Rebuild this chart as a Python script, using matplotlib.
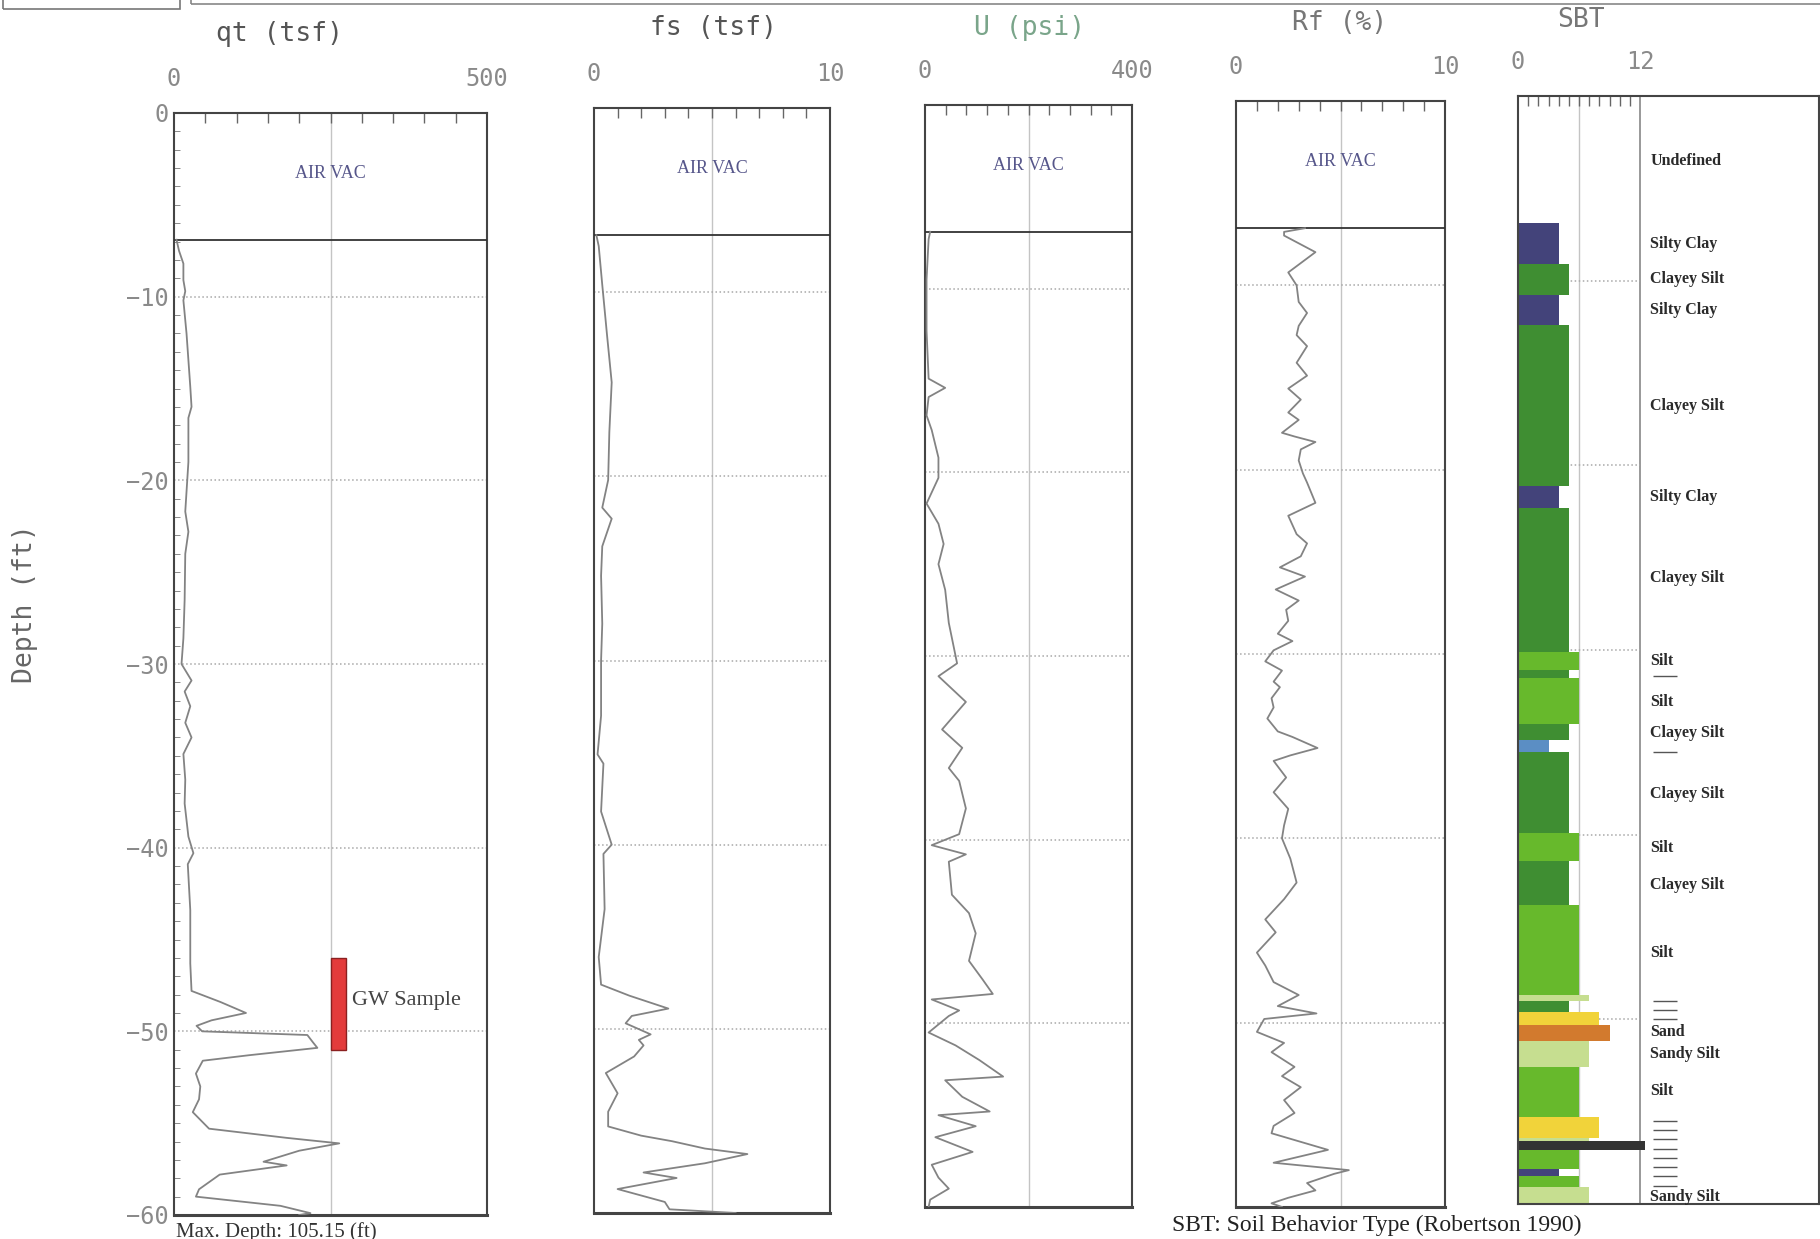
import numpy as np
import matplotlib
matplotlib.use('Agg')
import matplotlib.pyplot as plt
from matplotlib import font_manager
from matplotlib.patches import Rectangle


def pick_font(names):
    for n in names:
        try:
            font_manager.findfont(n, fallback_to_default=False)
            return n
        except ValueError:
            pass
    return 'DejaVu Sans'


TICKFONT = pick_font(['Liberation Sans Narrow', 'DejaVu Sans Mono'])
MONO = 'DejaVu Sans Mono'
SERIF = pick_font(['Liberation Serif', 'DejaVu Serif'])

# ---- data (depth in ft, negative down) ----
qt_depth = [-6.9, -7.5, -8.2, -9.1, -9.7, -10.2, -12.0, -14.9, -16.0, -16.6, -19.0, -21.7,
            -22.8, -24.0, -26.5, -28.6, -30.0, -30.9, -31.5, -32.3, -33.2, -34.0, -34.9,
            -36.3, -37.6, -39.4, -40.3, -40.9, -43.4, -46.3, -47.8, -48.4, -49.0, -49.4,
            -49.7, -50.0, -50.2, -50.6, -50.9, -51.3, -51.6, -52.3, -53.0, -53.7, -54.4,
            -55.3, -55.8, -56.1, -56.5, -57.1, -57.3, -57.8, -58.6, -59.0, -59.5, -59.9, -60.0]
qt_tsf = [4, 8, 15, 15, 18, 15, 20, 26, 28, 23, 23, 18,
          23, 18, 17, 15, 12, 28, 17, 26, 18, 28, 15,
          18, 17, 23, 31, 22, 26, 26, 28, 74, 115, 60,
          36, 45, 213, 222, 229, 120, 46, 35, 42, 40, 30,
          56, 180, 264, 200, 143, 180, 73, 40, 35, 170, 218, 200]

fs_depth = [-6.9, -7.5, -9.6, -12.3, -14.9, -17.6, -20.2, -21.7, -22.3, -23.8, -25.4, -28.0,
            -30.0, -33.0, -35.1, -35.6, -38.2, -40.0, -40.5, -43.5, -46.1, -47.6, -48.2,
            -48.9, -49.3, -49.7, -50.3, -50.6, -50.9, -51.5, -52.4, -53.5, -54.5, -55.3,
            -55.8, -56.1, -56.5, -56.8, -57.3, -57.8, -58.1, -58.7, -59.4, -59.8, -60.0]
fs_tsf = [0.1, 0.2, 0.35, 0.55, 0.75, 0.65, 0.6, 0.35, 0.75, 0.35, 0.3, 0.35,
          0.3, 0.3, 0.15, 0.4, 0.3, 0.75, 0.4, 0.45, 0.2, 0.3, 1.5,
          3.15, 1.6, 1.34, 2.4, 1.9, 2.1, 1.7, 0.5, 1.0, 0.6, 0.6,
          2.0, 3.3, 4.7, 6.5, 4.7, 2.1, 3.5, 1.0, 3.0, 3.2, 6.0]

u_depth = [-6.9, -7.3, -9.5, -12.3, -14.9, -15.4, -15.9, -16.9, -17.7, -19.2, -20.3, -21.7,
           -22.8, -23.9, -25.0, -26.4, -28.2, -30.4, -31.1, -32.5, -34.0, -35.0, -36.1,
           -36.8, -38.3, -39.7, -40.3, -40.8, -41.2, -43.0, -44.0, -45.1, -46.6, -47.6,
           -48.4, -48.7, -49.3, -49.6, -50.5, -51.2, -52.0, -52.9, -53.1, -54.0, -54.8,
           -55.0, -55.6, -56.2, -57.0, -57.7, -58.4, -59.0, -59.6, -60.0]
u_psi = [10, 7, 3, 3, 7, 39, 7, 3, 13, 26, 26, 3,
         26, 36, 26, 39, 46, 62, 26, 79, 33, 72, 46,
         66, 79, 66, 13, 79, 46, 52, 85, 98, 85, 111,
         131, 13, 66, 46, 7, 59, 105, 151, 39, 72, 125,
         26, 98, 20, 92, 13, 26, 46, 10, 7]

rf_depth = [-6.9, -7.1, -7.3, -8.2, -9.3, -10.0, -10.9, -11.5, -12.2, -12.7, -13.3, -14.2,
            -14.9, -15.6, -16.2, -16.9, -17.3, -18.0, -18.2, -18.5, -18.9, -19.5, -20.2,
            -20.7, -21.8, -22.5, -23.5, -24.0, -24.7, -25.3, -25.8, -26.5, -27.1, -27.6,
            -28.2, -28.9, -29.3, -29.8, -30.4, -30.9, -31.5, -31.8, -32.4, -32.9, -33.5,
            -34.2, -34.5, -35.1, -35.5, -35.8, -36.7, -37.5, -38.4, -39.3, -40.0, -41.1,
            -42.4, -43.3, -44.4, -45.1, -46.2, -46.9, -47.8, -48.5, -49.1, -49.5, -49.8,
            -50.5, -51.1, -51.6, -52.4, -52.9, -53.5, -54.2, -54.9, -55.6, -56.0, -56.9,
            -57.6, -58.0, -58.2, -58.7, -59.1, -59.5, -59.8, -60.0]
rf_pct = [3.3, 2.3, 2.3, 3.8, 2.5, 2.9, 3.0, 3.4, 3.0, 2.9, 3.4, 2.9,
          3.4, 2.5, 3.1, 2.5, 3.0, 2.2, 2.8, 3.8, 3.1, 3.0, 3.2,
          3.4, 3.8, 2.5, 2.9, 3.4, 3.1, 2.1, 3.3, 1.9, 3.0, 2.4,
          2.5, 2.0, 2.7, 1.8, 1.4, 2.2, 1.8, 2.1, 1.7, 1.8, 1.5,
          2.0, 2.7, 3.9, 2.6, 1.8, 2.4, 1.8, 2.5, 2.3, 2.2, 2.6,
          2.9, 2.3, 1.4, 1.9, 1.0, 1.4, 1.8, 3.0, 2.0, 3.85, 1.35,
          1.0, 2.3, 1.7, 2.8, 2.2, 3.1, 2.3, 2.8, 1.8, 1.7, 4.4,
          1.8, 5.4, 4.7, 3.4, 3.8, 2.5, 1.7, 2.2]

# SBT layers: top, bottom, zone
sbt_top = [-6.9, -9.1, -10.8, -12.4, -21.1, -22.3, -30.1, -31.1, -31.5, -34.0, -34.9, -35.5,
           -39.9, -41.4, -43.8, -48.7, -49.0, -49.6, -50.3, -51.2, -52.6, -55.3, -56.4,
           -56.6, -57.1, -58.1, -58.5, -59.1]
sbt_bot = [-9.1, -10.8, -12.4, -21.1, -22.3, -30.1, -31.1, -31.5, -34.0, -34.9, -35.5, -39.9,
           -41.4, -43.8, -48.7, -49.0, -49.6, -50.3, -51.2, -52.6, -55.3, -56.4, -56.6,
           -57.1, -58.1, -58.5, -59.1, -60.0]
sbt_zone = [4, 5, 4, 5, 4, 5, 6, 5, 6, 5, 3, 5,
            6, 5, 6, 7, 5, 8, 9, 7, 6, 8, 7,
            12, 6, 4, 6, 7]
zone_colors = {3: '#5b8ec4', 4: '#43437a', 5: '#3f8e32', 6: '#67b92c', 7: '#c6de90',
               8: '#f1d33a', 9: '#d27a2e', 12: '#333333'}

sbt_labels = ['Undefined', 'Silty Clay', 'Clayey Silt', 'Silty Clay', 'Clayey Silt', 'Silty Clay',
              'Clayey Silt', 'Silt', 'Silt', 'Clayey Silt', 'Clayey Silt', 'Silt', 'Clayey Silt',
              'Silt', 'Sand', 'Sandy Silt', 'Silt', 'Sandy Silt']
sbt_label_depth = [-3.5, -8.0, -9.9, -11.6, -16.8, -21.7, -26.1, -30.6, -32.8, -34.5, -37.8,
                   -40.7, -42.7, -46.4, -50.7, -51.9, -53.9, -59.6]
sbt_dash_depth = [-31.4, -35.5, -49.0, -49.5, -50.0, -55.5, -56.0, -56.5, -57.0, -57.5,
                  -58.0, -58.5, -59.0]

gw_top, gw_bot = -46.0, -51.0

W, H = 1820, 1239
fig = plt.figure(figsize=(W / 100, H / 100), dpi=100)


def rect(l, r, t, b):
    return [l / W, 1 - b / H, (r - l) / W, (b - t) / H]


def panel(box, xmax, step, label_max):
    ax = fig.add_axes(rect(*box))
    ax.set_xlim(0, xmax)
    ax.set_ylim(-60, 0)
    ax.xaxis.tick_top()
    ax.set_xticks([0, xmax])
    ax.set_xticklabels(['0', label_max])
    ax.set_xticks(np.arange(step, xmax, step), minor=True)
    ax.tick_params(axis='x', which='major', length=0, pad=16, labelsize=17, labelcolor='#8a8a8a')
    ax.tick_params(axis='x', which='minor', direction='in', length=7, color='#666', width=1)
    for lab in ax.get_xticklabels():
        lab.set_fontfamily(TICKFONT)
    ax.set_yticks([])
    for s in ax.spines.values():
        s.set_color('#444')
        s.set_linewidth(1.5)
    ax.spines['bottom'].set_linewidth(2.2)
    return ax


def common(ax, xmax):
    ax.axvline(xmax / 2, color='#c4c4c4', lw=1, zorder=1)
    for d in range(-10, -60, -10):
        ax.axhline(d, color='#a8a8a8', lw=1.1, ls=':', zorder=1)
    ax.axhline(-6.9, color='#333', lw=1.3, zorder=3)
    ax.text(xmax / 2, -3.3, 'AIR VAC', ha='center', va='center', fontsize=13,
            family=SERIF, color='#56568a')


line_kw = dict(color='#838383', lw=1.3, zorder=4)

# qt
ax1 = panel((174, 487, 113, 1215), 500, 50, '500')
common(ax1, 500)
ax1.plot(qt_tsf, qt_depth, **line_kw)
ax1.set_yticks(range(0, -70, -10))
ax1.set_yticks(range(0, -61, -1), minor=True)
ax1.tick_params(axis='y', which='major', length=0, pad=4, labelsize=17, labelcolor='#8a8a8a')
ax1.tick_params(axis='y', which='minor', direction='in', length=4, color='#777')
for lab in ax1.get_yticklabels():
    lab.set_fontfamily(TICKFONT)
ax1.add_patch(Rectangle((250, gw_bot), 24, gw_top - gw_bot, facecolor='#e33b3b',
                        edgecolor='#8a2020', lw=1, zorder=5))
ax1.text(285, -48.3, 'GW Sample', fontsize=16, family=SERIF, color='#444', va='center')

# fs
ax2 = panel((594, 830, 108, 1213), 10, 1, '10')
common(ax2, 10)
ax2.plot(fs_tsf, fs_depth, **line_kw)

# U
ax3 = panel((925, 1132, 105, 1207), 400, 40, '400')
common(ax3, 400)
ax3.plot(u_psi, u_depth, **line_kw)

# Rf
ax4 = panel((1236, 1445, 101, 1207), 10, 1, '10')
common(ax4, 10)
ax4.plot(rf_pct, rf_depth, **line_kw)

# SBT
ax5 = fig.add_axes(rect(1518, 1819, 96, 1204))
ax5.set_xlim(0, 29.6)
ax5.set_ylim(-60, 0)
ax5.xaxis.tick_top()
ax5.set_xticks([0, 12])
ax5.set_xticklabels(['0', '12'])
ax5.set_xticks(np.arange(1, 12, 1), minor=True)
ax5.tick_params(axis='x', which='major', length=0, pad=16, labelsize=17, labelcolor='#8a8a8a')
ax5.tick_params(axis='x', which='minor', direction='in', length=7, color='#666', width=1)
for lab in ax5.get_xticklabels():
    lab.set_fontfamily(TICKFONT)
ax5.set_yticks([])
for s in ax5.spines.values():
    s.set_color('#444')
    s.set_linewidth(1.5)
ax5.vlines(6, -60, 0, color='#c4c4c4', lw=1, zorder=1)
ax5.axvline(12, color='#888', lw=1.2, zorder=1)
ax5.hlines(range(-10, -60, -10), 0, 12, color='#a8a8a8', lw=1.1, ls=':', zorder=1)
for t, b, z in zip(sbt_top, sbt_bot, sbt_zone):
    w = 12.5 if z == 12 else z
    ax5.barh((t + b) / 2, w, height=t - b, left=0, color=zone_colors[z], edgecolor='none', zorder=2)
for name, d in zip(sbt_labels, sbt_label_depth):
    ax5.text(13.0, d, name, fontsize=11.5, family=SERIF, fontweight='bold', color='#2a2a2a',
             va='center', ha='left')
ax5.hlines(sbt_dash_depth, 13.3, 15.6, color='#555', lw=1)

# titles
fig.text(279 / W, 1 - 34 / H, 'qt (tsf)', ha='center', va='center', fontsize=19, family=MONO, color='#555')
fig.text(714 / W, 1 - 28 / H, 'fs (tsf)', ha='center', va='center', fontsize=19, family=MONO, color='#555')
fig.text(1030 / W, 1 - 28 / H, 'U (psi)', ha='center', va='center', fontsize=19, family=MONO, color='#7aa58a')
fig.text(1340 / W, 1 - 23 / H, 'Rf (%)', ha='center', va='center', fontsize=19, family=MONO, color='#777')
fig.text(1581 / W, 1 - 20 / H, 'SBT', ha='center', va='center', fontsize=19, family=MONO, color='#777')
fig.text(25 / W, 1 - 604 / H, 'Depth (ft)', ha='center', va='center', rotation=90, fontsize=19,
         family=MONO, color='#666')

fig.text(176 / W, 1 - 1222 / H, 'Max. Depth: 105.15 (ft)', ha='left', va='top', fontsize=15,
         family=SERIF, color='#333')
fig.text(1172 / W, 1 - 1225 / H, 'SBT: Soil Behavior Type (Robertson 1990)', ha='left', va='center',
         fontsize=17, family=SERIF, color='#222')

# remnants of the page header at the top edge
fig.patches.append(Rectangle((3 / W, 1 - 9 / H), 177 / W, 20 / H, transform=fig.transFigure,
                             fill=False, edgecolor='#777', lw=1.2))
fig.patches.append(Rectangle((191 / W, 1 - 4 / H), 1700 / W, 20 / H, transform=fig.transFigure,
                             fill=False, edgecolor='#888', lw=1.2))

fig.savefig('out.png', dpi=100, facecolor='white')
